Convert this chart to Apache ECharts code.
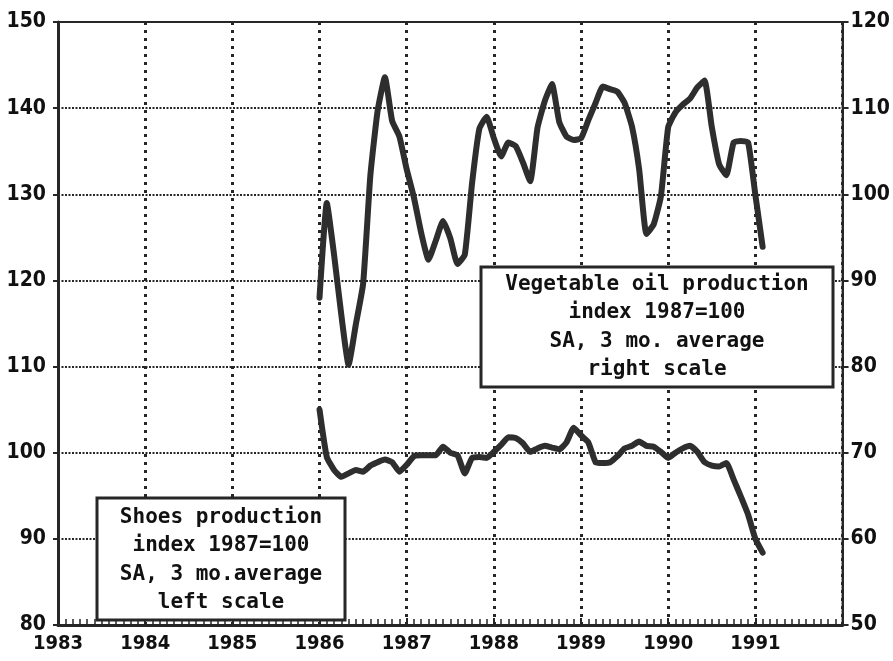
<!DOCTYPE html>
<html>
<head>
<meta charset="utf-8">
<script src="https://cdn.jsdelivr.net/npm/echarts@6/dist/echarts.min.js"></script>
<style>
html,body{margin:0;padding:0;background:#fff;}
#chart{width:893px;height:661px;}
</style>
</head>
<body>
<div id="chart"></div>
<script>
// Months (categories)
const months = [
 '1986-01','1986-02','1986-03','1986-04','1986-05','1986-06','1986-07','1986-08','1986-09','1986-10','1986-11','1986-12',
 '1987-01','1987-02','1987-03','1987-04','1987-05','1987-06','1987-07','1987-08','1987-09','1987-10','1987-11','1987-12',
 '1988-01','1988-02','1988-03','1988-04','1988-05','1988-06','1988-07','1988-08','1988-09','1988-10','1988-11','1988-12',
 '1989-01','1989-02','1989-03','1989-04','1989-05','1989-06','1989-07','1989-08','1989-09','1989-10','1989-11','1989-12',
 '1990-01','1990-02','1990-03','1990-04','1990-05','1990-06','1990-07','1990-08','1990-09','1990-10','1990-11','1990-12',
 '1991-01','1991-02'
];
// Vegetable oil production index (right scale)
const vegOil = [
 88, 99, 93, 86, 80.2, 84.9, 89.6, 102.2, 109.7, 113.6, 108.5, 106.7,
 102.9, 99.6, 95.5, 92.4, 94.6, 96.9, 94.9, 91.9, 93.0, 101.3, 107.6, 109.0,
 106.5, 104.4, 106.0, 105.6, 103.7, 101.5, 107.7, 110.8, 112.8, 108.4, 106.7, 106.3,
 106.5, 108.6, 110.6, 112.5, 112.2, 111.9, 110.6, 107.9, 102.9, 95.4, 96.5, 99.8,
 107.8, 109.5, 110.4, 111.1, 112.4, 113.2, 107.8, 103.5, 102.2, 106.0, 106.2, 106.0,
 99.9, 93.9
];
// Shoes production index (left scale)
const shoes = [
 105, 99.5, 98.0, 97.2, 97.6, 98.0, 97.8, 98.5, 98.9, 99.2, 98.9, 97.8,
 98.6, 99.6, 99.7, 99.7, 99.7, 100.7, 100.0, 99.7, 97.6, 99.4, 99.5, 99.4,
 100.1, 100.9, 101.8, 101.7, 101.1, 100.1, 100.5, 100.8, 100.6, 100.4, 101.2, 102.9,
 102.0, 101.2, 98.9, 98.8, 98.9, 99.6, 100.5, 100.8, 101.3, 100.8, 100.7, 100.1,
 99.4, 100.0, 100.5, 100.8, 100.1, 98.9, 98.5, 98.4, 98.8, 96.9, 94.9, 92.8,
 90.0, 88.4
];
const yearTicks = [1983,1984,1985,1986,1987,1988,1989,1990,1991];
const leftTicks = [80,90,100,110,120,130,140,150];
const rightTicks = [50,60,70,80,90,100,110,120];

function toYear(m){ const p = m.split('-'); return +p[0] + (+p[1]-1)/12; }
const vegData = months.map((m,i)=>[toYear(m), vegOil[i]]);
const shoesData = months.map((m,i)=>[toYear(m), shoes[i]]);

const ink = '#262626';
const labelFont = {color:'#111', fontFamily:'"DejaVu Sans Condensed","DejaVu Sans",sans-serif', fontWeight:'bold', fontSize:21};
const boxFont = 'bold 21px "DejaVu Sans Mono", monospace';

const chart = echarts.init(document.getElementById('chart'), null, {renderer:'canvas'});
chart.setOption({
  animation:false,
  backgroundColor:'#fff',
  grid:{left:58, right:50, top:22, bottom:36, show:true, borderColor:ink, borderWidth:2, backgroundColor:'transparent'},
  xAxis:{
    type:'value', min:1983, max:1992, interval:1,
    axisLine:{show:true, lineStyle:{color:ink, width:3}},
    axisTick:{show:true, inside:true, length:7, lineStyle:{color:ink, width:2}},
    minorTick:{show:true, splitNumber:12, length:6, lineStyle:{color:ink, width:1.5}},
    axisLabel:Object.assign({}, labelFont, {margin:9, fontSize:20, formatter:v=> yearTicks.indexOf(v)>=0 ? String(v) : ''}),
    splitLine:{show:true, lineStyle:{color:ink, width:3, type:[3,5]}}
  },
  yAxis:[
    {type:'value', min:80, max:150, interval:10, position:'left',
     axisLine:{show:true, lineStyle:{color:ink, width:3}},
     axisTick:{show:true, length:5, lineStyle:{color:ink, width:2}},
     axisLabel:Object.assign({}, labelFont, {margin:12, formatter:v=> leftTicks.indexOf(v)>=0 ? String(v):''}),
     splitLine:{show:true, lineStyle:{color:ink, width:2, type:[2,1.5]}}
    },
    {type:'value', min:50, max:120, interval:10, position:'right',
     axisLine:{show:true, lineStyle:{color:ink, width:2}},
     axisTick:{show:true, length:6, lineStyle:{color:ink, width:2}},
     axisLabel:Object.assign({}, labelFont, {margin:8, formatter:v=> rightTicks.indexOf(v)>=0 ? String(v):''}),
     splitLine:{show:false}
    }
  ],
  series:[
    {name:'Vegetable oil', type:'line', yAxisIndex:1, data:vegData, showSymbol:false, smooth:0.15,
     lineStyle:{color:'#2e2e2e', width:6, join:'round', cap:'round'}, z:5},
    {name:'Shoes', type:'line', yAxisIndex:0, data:shoesData, showSymbol:false, smooth:0.15,
     lineStyle:{color:'#2e2e2e', width:6, join:'round', cap:'round'}, z:5}
  ],
  graphic:[
    {type:'group', z:100, children:[
      {type:'rect', z:100, shape:{x:481, y:267, width:352, height:120}, style:{fill:'#fff', stroke:ink, lineWidth:3}},
      {type:'text', z:101, x:657, y:327, style:{text:'Vegetable oil production\nindex 1987=100\nSA, 3 mo. average\nright scale', font:boxFont, fill:'#111', align:'center', verticalAlign:'middle', lineHeight:28.5}}
    ]},
    {type:'group', z:100, children:[
      {type:'rect', z:100, shape:{x:97, y:498, width:248, height:122}, style:{fill:'#fff', stroke:ink, lineWidth:3}},
      {type:'text', z:101, x:221, y:560, style:{text:'Shoes production\nindex 1987=100\nSA, 3 mo.average\nleft scale', font:boxFont, fill:'#111', align:'center', verticalAlign:'middle', lineHeight:28.5}}
    ]}
  ]
});
</script>
</body>
</html>
